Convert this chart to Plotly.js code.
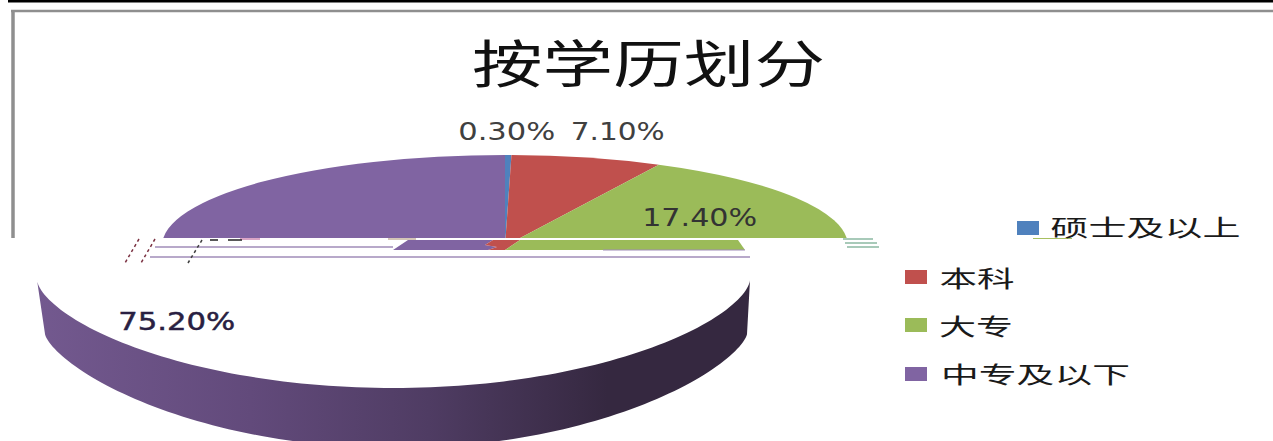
<!DOCTYPE html>
<html>
<head>
<meta charset="utf-8">
<script src="https://cdn.plot.ly/plotly-3.0.1.min.js"></script>
<style>html,body{margin:0;padding:0;background:#fff;overflow:hidden}#chart{width:1273px;height:441px}</style>
</head>
<body>
<div id="chart"></div>
<script>
const chartTitle = '按学历划分';
const categories = ['硕士及以上', '本科', '大专', '中专及以下'];
const shares = [0.3, 7.1, 17.4, 75.2];
const sliceColors = ['#4f81bd', '#c0504d', '#9bbb59', '#8064a2'];

// Layout constants (pixel space of the 1273x441 picture)
const W = 1273, H = 441;
const topFace = {cx: 505, cy: 246, a: 343, b: 91, clipY: 238};
const labelPos = [[506.5, 131, 97], [617, 131, 94], [699.5, 217, 115], [176.5, 321, 117]];
const labelColor = ['#404040', '#404040', '#333333', '#2a1f42'];
const swatchPos = [[1017, 221], [905, 270], [905, 318], [905, 367]];
const legendPos = [[1145, 226, 190], [976.5, 277, 75], [976, 325, 74], [1035.5, 373, 189]];

// Wall of the drum: crescent between two peaked elliptical arcs
const wallX = [], wallY = [];
for (let i = 0; i <= 120; i++) {
  const t = Math.PI * i / 120;
  wallX.push(393.5 - 356.5 * Math.cos(t));
  wallY.push(280 + 108 * Math.pow(Math.sin(t), 1.26));
}
for (let i = 120; i >= 0; i--) {
  const t = Math.PI * i / 120;
  wallX.push(396 - 351 * Math.cos(t));
  wallY.push(334 + 114 * Math.pow(Math.sin(t), 1.4));
}
wallX.push(wallX[0]); wallY.push(wallY[0]);

const pie = {
  type: 'pie', labels: categories, values: shares, sort: false,
  direction: 'clockwise', rotation: 0, textinfo: 'none', hoverinfo: 'label+percent',
  marker: {colors: sliceColors, line: {width: 0}},
  domain: {x: [0, 1], y: [0, 1]}, showlegend: false
};
const wall = {
  type: 'scatter', mode: 'none', x: wallX, y: wallY, fill: 'toself', hoverinfo: 'skip', showlegend: false,
  fillgradient: {type: 'horizontal', colorscale: [[0, '#73598f'], [0.3, '#624a7b'], [0.55, '#4f3c63'], [0.8, '#352840'], [1, '#352840']]}
};

const ln = (x0, y0, x1, y1, color, width, dash) => ({type: 'line', xref: 'x', yref: 'y', layer: 'above', x0, y0, x1, y1, line: {color, width, dash: dash || 'solid'}});
const rect = (x0, y0, x1, y1, color) => ({type: 'rect', xref: 'x', yref: 'y', layer: 'above', x0, y0, x1, y1, fillcolor: color, line: {width: 0}});
const poly = (path, color) => ({type: 'path', xref: 'x', yref: 'y', layer: 'above', path, fillcolor: color, line: {width: 0}});

const shapes = [
  rect(8, 0, W, 2.5, '#000000'),
  ln(11, 11, W, 11, '#8f8f8f', 2.5),
  ln(13, 10, 13, 238, '#8f8f8f', 3.5),
  // torn strip of the pie below the scan break
  poly('M393,250 L408,240 L493,240 L485,245 L497,247 L488,250 Z', sliceColors[3]),
  poly('M485,245 L493,240 L520,240 L505,250 L488,250 L497,247 Z', sliceColors[1]),
  poly('M505,250 L520,240 L738,240 L745,250 Z', sliceColors[2]),
  ln(603, 250, 745, 250, '#a08cb8', 1.2),
  ln(155, 247, 393, 247, '#a08cb8', 1.5),
  ln(150, 257, 750, 257, '#a08cb8', 1.5),
  ln(388, 239, 416, 239, '#b89f88', 1.2),
  ln(240, 239, 260, 239, '#c06aa0', 1.2),
  ln(843, 239, 873, 239, '#6fa78a', 1.2),
  ln(845, 243, 877, 243, '#6fa78a', 1.2),
  ln(847, 247, 879, 247, '#6fa78a', 1.2),
  ln(139, 239, 125, 263, '#7a3040', 1.5, 'dot'),
  ln(155, 239, 141, 263, '#7a3040', 1.5, 'dot'),
  ln(202, 240, 188, 263, '#404040', 1.5, 'dot'),
  ln(210, 240, 218, 240, '#222222', 1.5),
  ln(228, 240, 242, 240, '#222222', 1.5),
  ln(1033, 238.5, 1072, 238.5, '#a8c060', 1.2)
];
categories.forEach((c, i) => {
  const [x, y] = swatchPos[i];
  shapes.push(rect(x, y, x + 22, y + 14, sliceColors[i]));
});

const annotations = [];
const stretch = [];
shares.forEach((v, i) => {
  const [x, y, w] = labelPos[i];
  annotations.push({xref: 'x', yref: 'y', x, y, xanchor: 'center', yanchor: 'middle', showarrow: false,
    text: v.toFixed(2) + '%', font: {family: 'DejaVu Sans', size: 25, color: labelColor[i]}});
  stretch.push(w);
});
categories.forEach((c, i) => {
  const [x, y, w] = legendPos[i];
  annotations.push({xref: 'x', yref: 'y', x, y, xanchor: 'center', yanchor: 'middle', showarrow: false,
    text: c, font: {family: 'Noto Sans CJK SC', size: 23, color: '#1a1a1a'}});
  stretch.push(w);
});

const layout = {
  width: W, height: H, margin: {l: 0, r: 0, t: 0, b: 0},
  paper_bgcolor: '#ffffff', plot_bgcolor: 'rgba(0,0,0,0)', showlegend: false,
  title: {text: chartTitle, x: 648.5 / W, xanchor: 'center', y: 1 - 65 / H, yanchor: 'middle',
          font: {family: 'Noto Sans CJK SC', size: 51, color: '#111111'}},
  xaxis: {range: [0, W], visible: false, fixedrange: true},
  yaxis: {range: [H, 0], visible: false, fixedrange: true},
  shapes, annotations
};

function fit(node, width) {
  node.setAttribute('textLength', width);
  node.setAttribute('lengthAdjust', 'spacingAndGlyphs');
}

const gd = document.getElementById('chart');
Plotly.newPlot(gd, [wall, pie], layout, {displayModeBar: false, staticPlot: true}).then(() => {
  // Lay the circular pie down into the ellipse of the drum's top face and cut it at the scan break.
  const cd = gd.calcdata.find(c => c[0].trace.type === 'pie')[0];
  const sx = topFace.a / cd.r, sy = topFace.b / cd.r;
  const layer = gd.querySelector('.pielayer');
  const svg = layer.ownerSVGElement;
  const NS = 'http://www.w3.org/2000/svg';
  const defs = svg.querySelector('defs') || svg.insertBefore(document.createElementNS(NS, 'defs'), svg.firstChild);
  const clip = document.createElementNS(NS, 'clipPath');
  clip.setAttribute('id', 'pie-cut');
  const r = document.createElementNS(NS, 'rect');
  r.setAttribute('x', 0); r.setAttribute('y', 0);
  r.setAttribute('width', W); r.setAttribute('height', topFace.clipY);
  clip.appendChild(r); defs.appendChild(clip);
  layer.setAttribute('clip-path', 'url(#pie-cut)');
  layer.querySelectorAll(':scope > g').forEach(g => {
    g.setAttribute('transform', `matrix(${sx},0,0,${sy},${topFace.cx - sx * cd.cx},${topFace.cy - sy * cd.cy})`);
  });
  gd.querySelectorAll('.annotation').forEach(a => {
    const i = +a.getAttribute('data-index');
    const t = a.querySelector('text');
    if (t) {
      fit(t, stretch[i]);
      if (i === 3) { t.style.stroke = labelColor[3]; t.style.strokeWidth = '0.5px'; }
    }
  });
  const title = gd.querySelector('.gtitle');
  if (title) fit(title, 353);
});
</script>
</body>
</html>
